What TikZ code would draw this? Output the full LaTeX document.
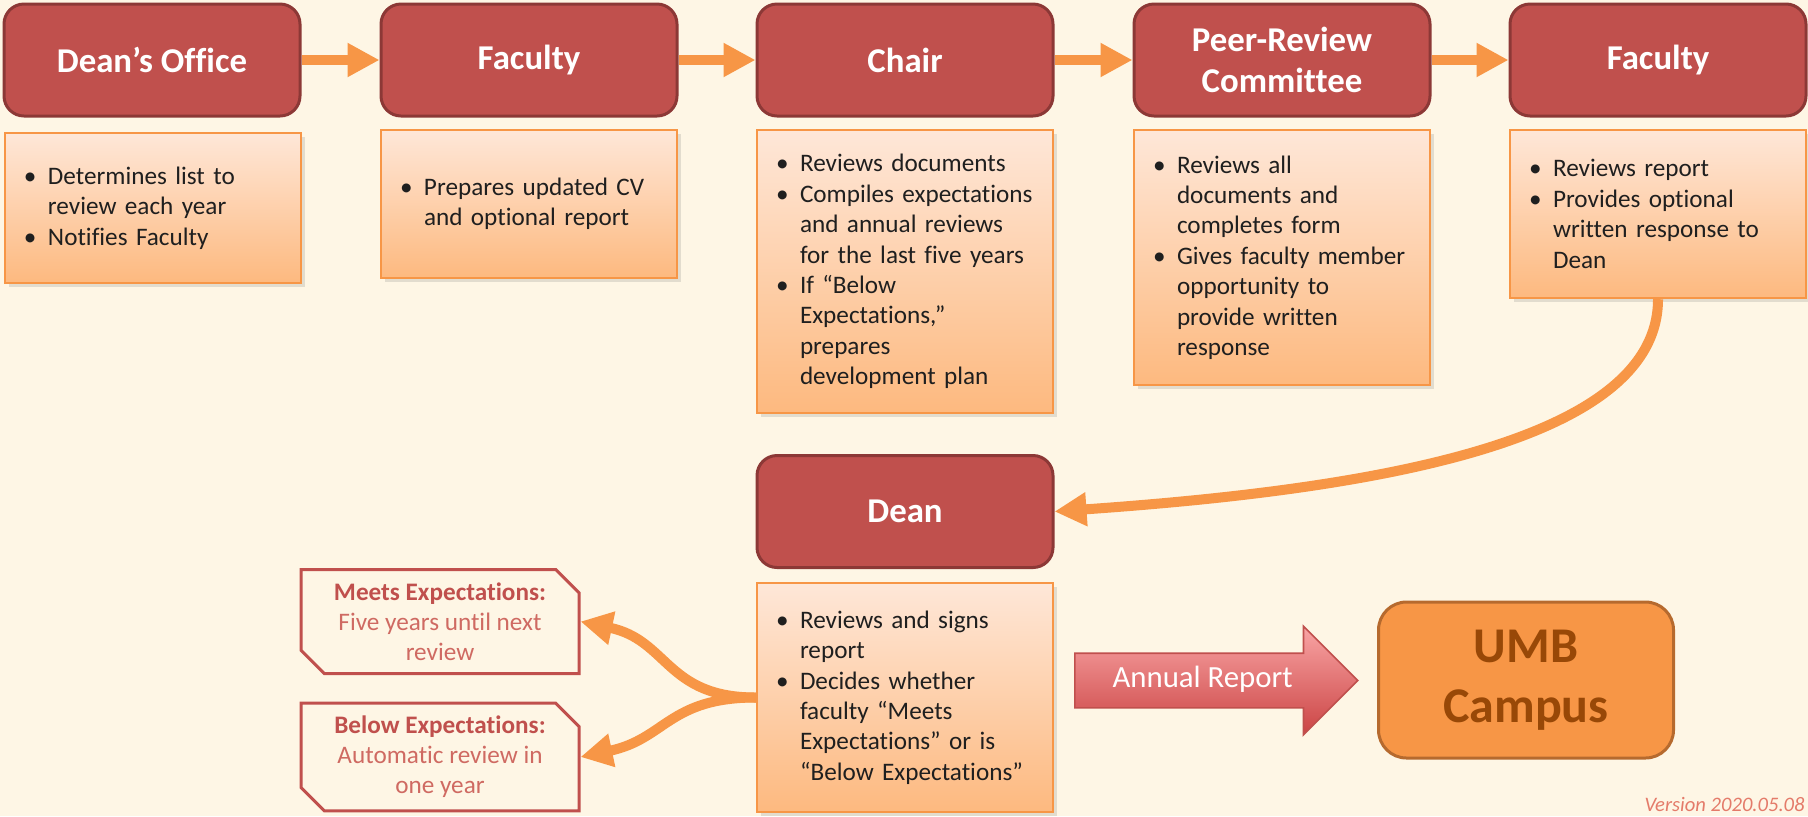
\documentclass[tikz,border=0pt]{standalone}
\usepackage{fontspec}
\setmainfont{Carlito}[Ligatures=NoCommon]
\usepackage{tikz}
\usetikzlibrary{arrows.meta, shapes.misc, shapes.arrows, shadows}

\definecolor{bgcream}{HTML}{FEF6E5}
\definecolor{hdrred}{HTML}{C0504D}
\definecolor{hdrline}{HTML}{8C3836}
\definecolor{notetop}{HTML}{FEE7D8}
\definecolor{notebot}{HTML}{FDB97F}
\definecolor{noteline}{HTML}{F79646}
\definecolor{flowor}{HTML}{F79646}
\definecolor{outhead}{HTML}{C0504D}
\definecolor{outbody}{HTML}{CF6A62}
\definecolor{campusfill}{HTML}{F79646}
\definecolor{campusline}{HTML}{B66A2E}
\definecolor{campustext}{HTML}{984807}
\definecolor{reptop}{HTML}{F9A5A5}
\definecolor{repbot}{HTML}{CB4444}
\definecolor{vercol}{HTML}{E47B6A}

\newcommand{\bitem}{\makebox[12pt][l]{\textbullet}}
\newcommand{\bcont}{\hspace*{12pt}}

\begin{document}
\begin{tikzpicture}[x=0.5pt, y=-0.5pt,
    hdr/.style={rectangle, rounded corners=10pt, draw=hdrline, line width=1.5pt,
        fill=hdrred, text=white, font=\bfseries\fontsize{17.4}{20.5}\selectfont,
        minimum width=148pt, minimum height=56pt, align=center, inner sep=0pt},
    note/.style={rectangle, draw=noteline, line width=1.2pt,
        top color=notetop, bottom color=notebot, text=black!88,
        font=\fontsize{12.6}{15.2}\selectfont, text width=129pt, inner xsep=9.5pt,
        align=left, drop shadow={opacity=0.22, shadow xshift=2pt, shadow yshift=-2pt}},
    outcome/.style={chamfered rectangle, chamfered rectangle corners={north east, south west},
        chamfered rectangle xsep=8.5pt, draw=outhead, line width=1.5pt, fill=bgcream,
        text=outbody, font=\fontsize{12.6}{15}\selectfont, align=center,
        minimum width=139pt, minimum height=52pt},
    campus/.style={rectangle, rounded corners=14pt, draw=campusline, line width=1.5pt,
        fill=campusfill, text=campustext, font=\bfseries\fontsize{25}{30}\selectfont,
        minimum width=147.5pt, minimum height=78pt, align=center},
    report/.style={single arrow, single arrow head extend=13.5pt,
        minimum height=141.5pt, text height=10pt, text depth=3pt, inner ysep=6.75pt,
        top color=reptop, bottom color=repbot, draw=hdrred, line width=0.8pt,
        text=white, font=\fontsize{15.4}{17}\selectfont},
    flow/.style={line width=5pt, draw=flowor, -{Triangle[length=16pt, width=16pt]}}]

    % Background
    \useasboundingbox (0,0) rectangle (1808,816);
    \fill[bgcream] (0,0) rectangle (1808,816);

    % Define steps
    \node[hdr] (office) at (152, 60) {Dean’s Office};
    \node[hdr] (fac) at (529, 60) {Faculty};
    \node[hdr] (chair) at (905, 60) {Chair};
    \node[hdr] (prc) at (1282, 60) {Peer-Review\\Committee};
    \node[hdr] (facresp) at (1658, 60) {Faculty};
    \node[hdr] (dean) at (905, 511.5) {Dean};

    % Define tasks
    \node[note, minimum height=75pt] (officetxt) at (153, 208)
        {\bitem Determines list to\\\bcont review each year\\\bitem Notifies Faculty};
    \node[note, minimum height=74pt] (factxt) at (529, 204)
        {\bitem Prepares updated CV\\\bcont and optional report};
    \node[note, minimum height=141.5pt] (chairtxt) at (905, 271.5)
        {\bitem Reviews documents\\\bitem Compiles expectations\\\bcont and annual reviews\\\bcont for the last five years\\\bitem If “Below\\\bcont Expectations,”\\\bcont prepares\\\bcont development plan};
    \node[note, minimum height=127.5pt] (prctxt) at (1282, 257.5)
        {\bitem Reviews all\\\bcont documents and\\\bcont completes form\\\bitem Gives faculty member\\\bcont opportunity to\\\bcont provide written\\\bcont response};
    \node[note, minimum height=84pt] (facresptxt) at (1658, 214)
        {\bitem Reviews report\\\bitem Provides optional\\\bcont written response to\\\bcont Dean};
    \node[note, minimum height=114.5pt] (deantxt) at (905, 697.5)
        {\bitem Reviews and signs\\\bcont report\\\bitem Decides whether\\\bcont faculty “Meets\\\bcont Expectations” or is\\\bcont “Below Expectations”};

    % Define outcomes
    \node[outcome] (meets) at (440, 621.5)
        {{\bfseries\color{outhead}Meets Expectations:}\\Five years until next\\review};
    \node[outcome] (below) at (440, 757)
        {{\bfseries\color{outhead}Below Expectations:}\\Automatic review in\\one year};
    \node[report, anchor=tail] (annual) at (1074, 680.5) {Annual Report};
    \node[campus] (umb) at (1526, 680) {UMB\\Campus};
    \node[font=\itshape\fontsize{10.3}{12}\selectfont, text=vercol, anchor=base east, inner sep=0pt]
        (version) at (1805, 811) {Version 2020.05.08};

    % Draw flow
    \draw[flow] (office) -- (fac);
    \draw[flow] (fac) -- (chair);
    \draw[flow] (chair) -- (prc);
    \draw[flow] (prc) -- (facresp);
    \draw[flow] (facresptxt.south) to[out=-90, in=4, out distance=71pt, in distance=162pt] (dean.east);
    \draw[flow] (deantxt.west) to[out=180, in=-12, looseness=1.2] (meets.east);
    \draw[flow] (deantxt.west) to[out=180, in=12, looseness=1.2] (below.east);
\end{tikzpicture}
\end{document}
